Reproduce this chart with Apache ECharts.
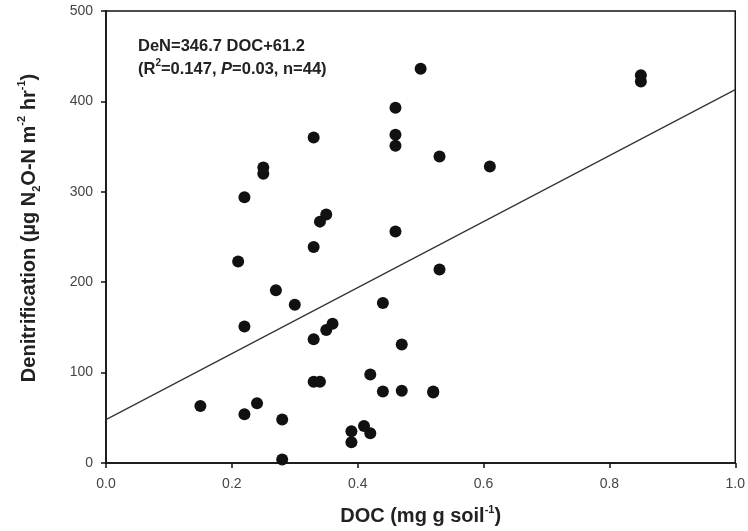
<!DOCTYPE html>
<html>
<head>
<meta charset="utf-8">
<script src="https://cdn.jsdelivr.net/npm/echarts@6/dist/echarts.min.js"></script>
<style>
html,body{margin:0;padding:0;background:#fff;}
#chart{width:748px;height:531px;}
</style>
</head>
<body>
<div id="chart"></div>
<script>
// DOC (mg g soil^-1)
var docValues = [0.15, 0.21, 0.22, 0.22, 0.22, 0.24, 0.25, 0.25, 0.27, 0.28, 0.28, 0.30,
  0.33, 0.33, 0.33, 0.33, 0.34, 0.34, 0.35, 0.35, 0.36, 0.39, 0.39, 0.41, 0.42, 0.42,
  0.44, 0.44, 0.46, 0.46, 0.46, 0.46, 0.47, 0.47, 0.50, 0.52, 0.52, 0.53, 0.53, 0.61,
  0.85, 0.85];
// Denitrification (ug N2O-N m^-2 hr^-1)
var denValues = [63, 223, 294, 151, 54, 66, 327, 320, 191, 48, 4, 175,
  360, 239, 137, 90, 90, 267, 275, 147, 154, 35, 23, 41, 33, 98,
  177, 79, 393, 363, 351, 256, 131, 80, 436, 79, 78, 339, 214, 328,
  429, 422];
// Fitted line as drawn
var fitX = [0, 1];
var fitY = [48, 413];
var xTicks = [0, 0.2, 0.4, 0.6, 0.8, 1.0];
var yTicks = [0, 100, 200, 300, 400, 500];

var FONT = "'Liberation Sans', Arial, Helvetica, sans-serif";
var chart = echarts.init(document.getElementById('chart'), null, {renderer: 'canvas'});

var scatterData = docValues.map(function (x, i) { return [x, denValues[i]]; });
var lineData = fitX.map(function (x, i) { return [x, fitY[i]]; });

chart.setOption({
  animation: false,
  backgroundColor: '#fff',
  title: {
    left: 133, top: 30,
    text: '{b|DeN=346.7 DOC+61.2}\n{b|(R}{sup|2}{b|=0.147, }{i|P}{b|=0.03, n=44)}',
    textStyle: {
      rich: {
        b: {fontFamily: FONT, fontWeight: 'bold', fontSize: 16.5, color: '#222', lineHeight: 23},
        i: {fontFamily: FONT, fontWeight: 'bold', fontStyle: 'italic', fontSize: 16.5, color: '#222', lineHeight: 23},
        sup: {fontFamily: FONT, fontWeight: 'bold', fontSize: 10, color: '#222', verticalAlign: 'top', lineHeight: 23}
      }
    }
  },
  grid: {
    left: 106, right: 12, top: 11, bottom: 64,
    show: true, borderColor: '#111', borderWidth: 1.5, backgroundColor: 'transparent'
  },
  xAxis: {
    type: 'value', min: 0, max: 1, interval: 0.2,
    name: '{t|DOC (mg g soil}{sup|-1}{t|)}',
    nameLocation: 'middle', nameGap: 41,
    nameTextStyle: {
      rich: {
        t: {fontFamily: FONT, fontWeight: 'bold', fontSize: 20, color: '#222', lineHeight: 24},
        sup: {fontFamily: FONT, fontWeight: 'bold', fontSize: 11, color: '#222', verticalAlign: 'top', lineHeight: 24}
      }
    },
    axisLine: {show: true, lineStyle: {color: '#111', width: 1.5}},
    axisTick: {show: true, inside: false, length: 5, lineStyle: {color: '#111', width: 1.5}},
    axisLabel: {
      margin: 14, fontFamily: FONT, fontSize: 14, color: '#444',
      formatter: function (v) { return v.toFixed(1); }
    },
    splitLine: {show: false}
  },
  yAxis: {
    type: 'value', min: 0, max: 500, interval: 100,
    name: '{t|Denitrification (\u00b5g N}{sub|2}{t|O-N m}{sup|-2}{t| hr}{sup|-1}{t|)}',
    nameLocation: 'middle', nameGap: 64, nameRotate: 90,
    nameTextStyle: {
      padding: [0, 0, 0, 18],
      rich: {
        t: {fontFamily: FONT, fontWeight: 'bold', fontSize: 20, color: '#222', lineHeight: 26},
        sup: {fontFamily: FONT, fontWeight: 'bold', fontSize: 11, color: '#222', verticalAlign: 'top', lineHeight: 26},
        sub: {fontFamily: FONT, fontWeight: 'bold', fontSize: 11, color: '#222', verticalAlign: 'bottom', lineHeight: 26}
      }
    },
    axisLine: {show: true, lineStyle: {color: '#111', width: 1.5}},
    axisTick: {show: true, inside: false, length: 5, lineStyle: {color: '#111', width: 1.5}},
    axisLabel: {margin: 13, fontFamily: FONT, fontSize: 14, color: '#444'},
    splitLine: {show: false}
  },
  series: [
    {
      type: 'line', data: lineData, symbol: 'none', silent: true,
      lineStyle: {color: '#333', width: 1.2}, z: 2
    },
    {
      type: 'scatter', data: scatterData, symbol: 'circle', symbolSize: 12,
      itemStyle: {color: '#111', opacity: 1}, z: 3
    }
  ]
});
</script>
</body>
</html>
